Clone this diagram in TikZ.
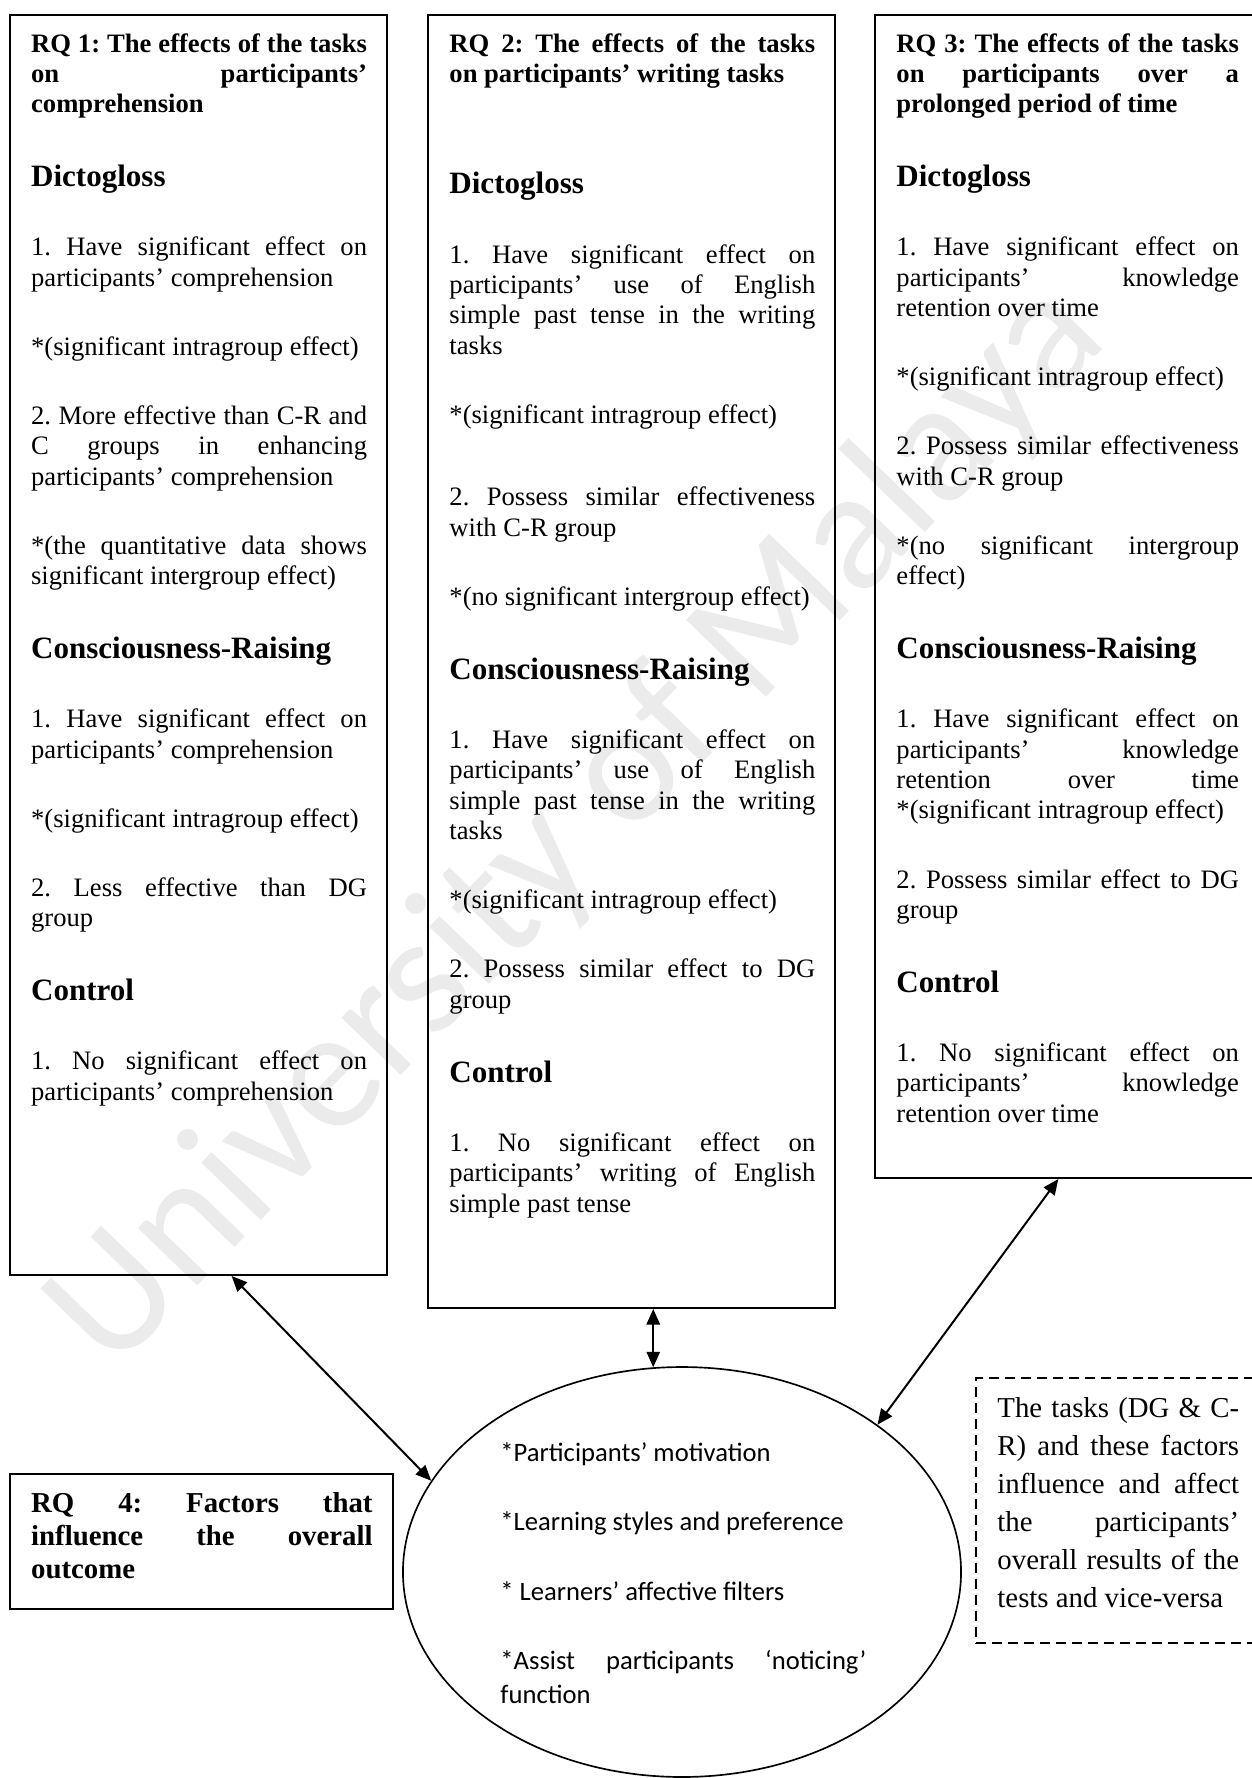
\documentclass[tikz,border=0pt]{standalone}
\usepackage{fontspec}
\setmainfont{Liberation Serif}
\newfontfamily\calib{Carlito}
\usetikzlibrary{arrows.meta,fit,shapes.geometric}

\newcommand{\boxtext}{\frenchspacing\parindent=0pt\parskip=17.5pt\hyphenpenalty=10000\exhyphenpenalty=10000\tolerance=10000\hbadness=10000}
\newcommand{\grp}[1]{{\fontsize{14}{15.8}\selectfont\bfseries #1\par}}

\tikzset{
  frame/.style={draw,line width=0.9pt,inner sep=0pt},
  body/.style={anchor=base west,inner sep=0pt,text width=#1,align=justify,font=\fontsize{12}{13.7}\selectfont},
  link/.style={<->,line width=0.9pt},
  watermark/.style={inner sep=0pt,text=black!8,font=\calib\fontsize{78}{78}\selectfont}
}

\begin{document}
\begin{tikzpicture}[x=0.451pt,y=-0.451pt,>={Triangle[length=7pt,width=6pt]}]
\useasboundingbox (0,0) rectangle (1251,1778);
\node[watermark,rotate=46] (wm) at (578,826) {University of Malaya};

\node[frame,fit={(10,15) (387,1275)}] (rq1) {};
\node[frame,fit={(428,15) (835,1308)}] (rq2) {};
\node[frame,fit={(875,15) (1262,1178)}] (rq3) {};
\node[frame,fit={(10,1474) (393,1609)}] (rq4) {};
\node[frame,line width=0.7pt,dash pattern=on 4.5pt off 2.7pt,fit={(976,1378) (1262,1643)}] (note) {};

\node[body=151.5pt] (rq1txt) at (30.7,52) {\boxtext
\textbf{RQ 1: The effects of the tasks\linebreak on participants’\linebreak comprehension}\par
\grp{Dictogloss}
1. Have significant effect on\linebreak participants’ comprehension\par
*(significant intragroup effect)\par
2. More effective than C-R and\linebreak C groups in enhancing\linebreak participants’ comprehension\par
*(the quantitative data shows\linebreak significant intergroup effect)\par
\grp{Consciousness-Raising}
1. Have significant effect on\linebreak participants’ comprehension\par
*(significant intragroup effect)\par
2. Less effective than DG\linebreak group\par
\grp{Control}
1. No significant effect on\linebreak participants’ comprehension};

\node[body=165pt] (rq2txt) at (449,52) {\boxtext
\textbf{RQ 2: The effects of the tasks\linebreak on participants’ writing tasks}\par
\vspace{17pt}
\grp{Dictogloss}
1. Have significant effect on\linebreak participants’ use of English\linebreak simple past tense in the writing\linebreak tasks\par
*(significant intragroup effect)\par
\vspace{6pt}
2. Possess similar effectiveness\linebreak with C-R group\par
*(no significant intergroup effect)\par
\grp{Consciousness-Raising}
1. Have significant effect on\linebreak participants’ use of English\linebreak simple past tense in the writing\linebreak tasks\par
*(significant intragroup effect)\par
2. Possess similar effect to DG\linebreak group\par
\grp{Control}
1. No significant effect on\linebreak participants’ writing of English\linebreak simple past tense};

\node[body=154.5pt] (rq3txt) at (896,52) {\boxtext
\textbf{RQ 3: The effects of the tasks\linebreak on participants over a\linebreak prolonged period of time}\par
\grp{Dictogloss}
1. Have significant effect on\linebreak participants’ knowledge\linebreak retention over time\par
*(significant intragroup effect)\par
2. Possess similar effectiveness\linebreak with C-R group\par
*(no significant intergroup\linebreak effect)\par
\grp{Consciousness-Raising}
1. Have significant effect on\linebreak participants’ knowledge\linebreak retention over time\linebreak *(significant intragroup effect)\par
2. Possess similar effect to DG\linebreak group\par
\grp{Control}
1. No significant effect on\linebreak participants’ knowledge\linebreak retention over time};

\node[body=154pt,font=\fontsize{13}{15.1}\selectfont\bfseries] (rq4txt) at (30.7,1512) {\boxtext
RQ 4: Factors that\linebreak influence the overall\linebreak outcome};

\node[body=109pt,font=\fontsize{13}{17.2}\selectfont] (notetxt) at (997,1417) {\boxtext
The tasks (DG \& C-\linebreak R) and these factors\linebreak influence and affect\linebreak the participants’\linebreak overall results of the\linebreak tests and vice-versa};

\node[draw,ellipse,line width=0.75pt,inner sep=0pt,minimum width=251.7pt,minimum height=184.9pt] (ell) at (682,1572) {};
\node[body=165pt,font=\calib\fontsize{12}{15.1}\selectfont] (elltxt) at (500,1461) {\boxtext\parskip=16.3pt
*Participants’ motivation\par
*Learning styles and preference\par
* Learners’ affective filters\par
*Assist participants ‘noticing’\linebreak function};

\path (rq1.-87) edge[link] (ell.160);
\path (rq2.south -| ell.98) edge[link] (ell.98);
\path (rq3.-91.5) edge[link] (ell.37);
\end{tikzpicture}
\end{document}
